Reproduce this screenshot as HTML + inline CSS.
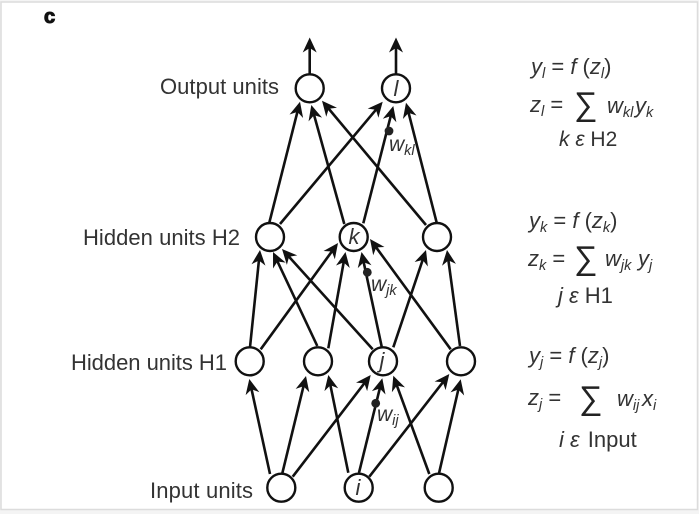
<!DOCTYPE html>
<html><head><meta charset="utf-8">
<style>
html,body{margin:0;padding:0;background:#fff;width:699px;height:514px;overflow:hidden}
svg{display:block;filter:blur(0.35px)}
text{font-family:"Liberation Sans",sans-serif;fill:#333}
.l{font-size:22px}
.m{font-size:22px;font-style:italic}
.r{font-style:normal}
.s{font-size:14.5px;font-style:italic}
.n{font-size:22px;font-style:italic;text-anchor:middle}
.a line{stroke:#111;stroke-width:2.6;marker-end:url(#h)}
.c circle{fill:#fff;stroke:#111;stroke-width:2.4}
.sig{font-size:33px;font-style:normal;fill:#222}
</style></head><body>
<svg width="699" height="514" viewBox="0 0 699 514" xmlns="http://www.w3.org/2000/svg">
<defs><marker id="h" markerUnits="userSpaceOnUse" markerWidth="24" markerHeight="20" refX="16" refY="10" orient="auto"><path d="M16,10 L1,3 L5.5,10 L1,17 Z" fill="#111"/></marker></defs>
<rect x="0" y="0" width="699" height="514" fill="#f4f4f4"/>
<rect x="1" y="2" width="696.5" height="507.5" fill="#fff" stroke="#dcdcdc" stroke-width="1.5"/>
<text x="44" y="23" style="font-size:20px;font-weight:bold;fill:#111;stroke:#111;stroke-width:1.1">c</text>
<g class="a">
<line x1="309.7" y1="74" x2="309.7" y2="37.5" stroke-dasharray="30 100"/>
<line x1="396" y1="74" x2="396" y2="37.5" stroke-dasharray="30 100"/>
<line x1="269.3" y1="222.7" x2="300" y2="101.7" stroke-dasharray="118 100"/>
<line x1="344.3" y1="224" x2="311.3" y2="105" stroke-dasharray="116 100"/>
<line x1="426" y1="225" x2="322" y2="100.7" stroke-dasharray="155 100"/>
<line x1="280" y1="224" x2="382.7" y2="101.7" stroke-dasharray="153 100"/>
<line x1="363.3" y1="223.3" x2="393.3" y2="106" stroke-dasharray="115 100"/>
<line x1="436.7" y1="222.7" x2="406" y2="102.7" stroke-dasharray="118 100"/>
<line x1="250" y1="347.3" x2="260" y2="250" stroke-dasharray="92 100"/>
<line x1="260.7" y1="349.3" x2="338" y2="243" stroke-dasharray="126 100"/>
<line x1="317.3" y1="346" x2="273" y2="252" stroke-dasharray="98 100"/>
<line x1="328.3" y1="348.3" x2="345.5" y2="252" stroke-dasharray="92 100"/>
<line x1="372.7" y1="349.3" x2="282" y2="249" stroke-dasharray="130 100"/>
<line x1="381.7" y1="346.7" x2="361.5" y2="252" stroke-dasharray="91 100"/>
<line x1="393.3" y1="347.3" x2="426" y2="250" stroke-dasharray="97 100"/>
<line x1="450.7" y1="349.3" x2="370" y2="239" stroke-dasharray="131 100"/>
<line x1="460" y1="346" x2="447" y2="250" stroke-dasharray="91 100"/>
<line x1="270" y1="474" x2="249.3" y2="379" stroke-dasharray="91 100"/>
<line x1="282.3" y1="473.3" x2="306" y2="376" stroke-dasharray="94 100"/>
<line x1="292.7" y1="476.7" x2="370.7" y2="375" stroke-dasharray="123 100"/>
<line x1="348.3" y1="472.7" x2="328.3" y2="375" stroke-dasharray="94 100"/>
<line x1="359" y1="472.7" x2="382.3" y2="378.3" stroke-dasharray="91 100"/>
<line x1="369.3" y1="476.7" x2="449.3" y2="374" stroke-dasharray="125 100"/>
<line x1="429.3" y1="474" x2="393.3" y2="375.7" stroke-dasharray="99 100"/>
<line x1="439" y1="473.3" x2="460.7" y2="379.3" stroke-dasharray="91 100"/>
</g>
<g class="c">
<circle cx="309.7" cy="88.3" r="14"/><circle cx="396" cy="88.3" r="14"/>
<circle cx="270" cy="237" r="14"/><circle cx="353.7" cy="237" r="14"/><circle cx="437" cy="237" r="14"/>
<circle cx="249.7" cy="361.3" r="14"/><circle cx="318" cy="361.3" r="14"/><circle cx="383" cy="361.3" r="14"/><circle cx="461" cy="361.3" r="14"/>
<circle cx="281.3" cy="487.7" r="14"/><circle cx="358.7" cy="487.7" r="14"/><circle cx="438.7" cy="487.7" r="14"/>
</g>
<circle cx="389" cy="131" r="4.4" fill="#222"/>
<circle cx="367.3" cy="272.3" r="4.4" fill="#222"/>
<circle cx="375.7" cy="403.3" r="4.4" fill="#222"/>
<text class="n" x="396" y="96">l</text>
<text class="n" x="354" y="244">k</text>
<text class="n" x="382" y="368">j</text>
<text class="n" x="358" y="495">i</text>
<text class="l" x="160" y="94" textLength="119">Output units</text>
<text class="l" x="83" y="245" textLength="157">Hidden units H2</text>
<text class="l" x="71" y="370" textLength="156">Hidden units H1</text>
<text class="l" x="150" y="498" textLength="103">Input units</text>
<text class="m" x="389" y="151" style="font-size:21px">w<tspan class="s" dy="4">kl</tspan></text>
<text class="m" x="371" y="291" style="font-size:21px">w<tspan class="s" dy="4">jk</tspan></text>
<text class="m" x="377" y="421" style="font-size:21px">w<tspan class="s" dy="4">ij</tspan></text>

<text class="m" x="531" y="74">y<tspan class="s" dy="4">l</tspan><tspan class="r" dy="-4"> = </tspan>f<tspan class="r"> (</tspan>z<tspan class="s" dy="4">l</tspan><tspan class="r" dy="-4">)</tspan></text>
<text class="m" x="530" y="112">z<tspan class="s" dy="4">l</tspan><tspan class="r" dy="-4"> =</tspan></text>
<text class="sig" x="574" y="115">∑</text>
<text class="m" x="607" y="113">w<tspan class="s" dy="4">kl</tspan><tspan x="635" dy="-4">y</tspan><tspan class="s" dy="4">k</tspan></text>
<text class="m" x="559" y="146" style="font-size:21px">k ε <tspan class="r">H2</tspan></text>

<text class="m" x="529" y="228">y<tspan class="s" dy="4">k</tspan><tspan class="r" dy="-4"> = </tspan>f<tspan class="r"> (</tspan>z<tspan class="s" dy="4">k</tspan><tspan class="r" dy="-4">)</tspan></text>
<text class="m" x="528" y="266">z<tspan class="s" dy="4">k</tspan><tspan class="r" dy="-4"> =</tspan></text>
<text class="sig" x="574" y="269">∑</text>
<text class="m" x="605" y="266">w<tspan class="s" dy="4">jk</tspan><tspan x="638" dy="-4">y</tspan><tspan class="s" dy="4">j</tspan></text>
<text class="m" x="558" y="303">j ε <tspan class="r">H1</tspan></text>

<text class="m" x="529" y="363">y<tspan class="s" dy="4">j</tspan><tspan class="r" dy="-4"> = </tspan>f<tspan class="r"> (</tspan>z<tspan class="s" dy="4">j</tspan><tspan class="r" dy="-4">)</tspan></text>
<text class="m" x="528" y="405">z<tspan class="s" dy="4">j</tspan><tspan class="r" dy="-4"> =</tspan></text>
<text class="sig" x="579" y="409">∑</text>
<text class="m" x="617" y="406">w<tspan class="s" dy="4">ij</tspan><tspan x="642" dy="-4">x</tspan><tspan class="s" dy="4">i</tspan></text>
<text class="m" x="559" y="447">i ε <tspan class="r" dx="2">Input</tspan></text>
</svg>
</body></html>
